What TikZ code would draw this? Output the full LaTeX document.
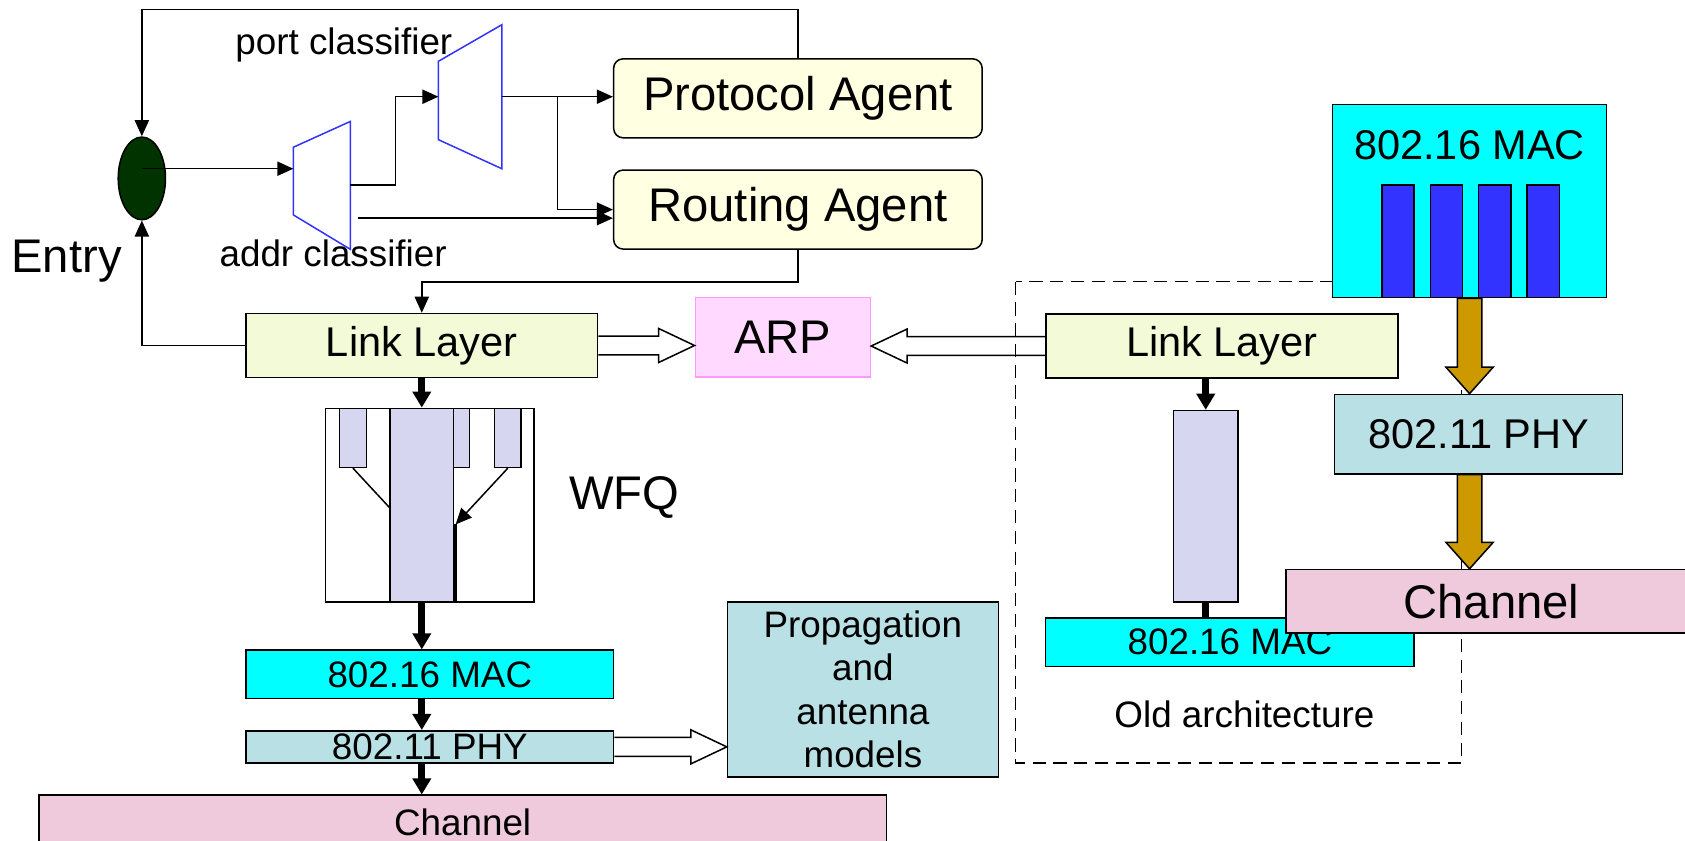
\documentclass[tikz,border=0pt]{standalone}
\usepackage{fontspec}
\setmainfont{Liberation Sans}
\usetikzlibrary{arrows.meta,calc,shapes.geometric}

\definecolor{agentfill}{RGB}{255,255,225}
\definecolor{linkfill}{RGB}{242,250,216}
\definecolor{arpfill}{RGB}{255,217,255}
\definecolor{arpline}{RGB}{255,153,255}
\definecolor{macfill}{RGB}{0,255,255}
\definecolor{barblue}{RGB}{51,51,255}
\definecolor{phyfill}{RGB}{185,224,228}
\definecolor{chanfill}{RGB}{239,202,220}
\definecolor{queuefill}{RGB}{214,214,240}
\definecolor{goldfill}{RGB}{204,153,0}
\definecolor{entryfill}{RGB}{0,51,0}

\begin{document}
\begin{tikzpicture}[x=0.02cm, y=-0.02cm, line width=0.8pt]
			\useasboundingbox (0,0) rectangle (1568,782);
			\begin{scope}
				[
					agent/.style={draw, rounded corners=5pt, fill=agentfill,
						minimum width=6.86cm, minimum height=1.47cm,
						font=\fontsize{25}{30}\selectfont},
					layer/.style={draw, fill=linkfill, minimum width=6.55cm,
						minimum height=1.19cm, font=\fontsize{22}{26}\selectfont},
					big/.style={font=\fontsize{25}{30}\selectfont},
					mid/.style={font=\fontsize{22}{26}\selectfont},
					small/.style={font=\fontsize{19.5}{23}\selectfont},
					queue/.style={draw, fill=queuefill, inner sep=0pt},
					classifier/.style={draw=barblue},
				]
				\draw[dashed, dash pattern=on 7pt off 4pt] (945,262) rectangle (1360,710);

				\node(entry)[draw, ellipse, fill=entryfill, minimum width=0.88cm,
					minimum height=1.54cm, inner sep=0pt] at (132,166) {};
				\node(entrytxt)[big, anchor=west, inner sep=0pt] at (10,243) {Entry};

				\draw[classifier] (273,137) -- (326,113) -- (326,232) -- (273,200) -- cycle;
				\draw[classifier] (408,57) -- (467,23) -- (467,157) -- (408,130) -- cycle;
				\coordinate (addrin) at (273,157);
				\coordinate (addrout) at (326,172);
				\coordinate (addrout2) at (333,203);
				\coordinate (portin) at (408,90);
				\coordinate (portout) at (467,90);
				\node(porttxt)[small] at (320,42) {port classifier};
				\node(addrtxt)[small] at (310,236) {addr classifier};

				\node(proto)[agent] at (742.5,91.5) {Protocol Agent};
				\node(routing)[agent] at (742.5,195) {Routing Agent};

				\node(linkL)[layer] at (392.5,321.5) {Link Layer};
				\node(arp)[draw=arpline, fill=arpfill, minimum width=3.26cm,
					minimum height=1.48cm, big] at (728.5,314) {ARP};
				\node(linkR)[layer] at (1137,322) {Link Layer};

				\node(wfq)[draw, fill=white, minimum width=3.88cm, minimum height=3.6cm] at (400,470) {};
				\node(q1)[queue, minimum width=0.5cm, minimum height=1.1cm] at (328.5,407.5) {};
				\node(q3)[queue, minimum width=0.5cm, minimum height=1.1cm] at (424.5,407.5) {};
				\node(q4)[queue, minimum width=0.5cm, minimum height=1.1cm] at (472.5,407.5) {};
				\coordinate (qin) at (364,474);
				\draw (q1.south) -- (qin);
				\node(qmid)[queue, minimum width=1.18cm, minimum height=3.6cm] at (392.5,470) {};
				\coordinate (qjoin) at (424,488);
				\node(wfqtxt)[big] at (581,463) {WFQ};

				\node(macL)[draw, fill=macfill, minimum width=6.84cm, minimum height=0.9cm,
					small] at (400,627.5) {802.16 MAC};
				\node(phyL)[draw, fill=phyfill, minimum width=6.84cm, minimum height=0.6cm,
					inner sep=0pt, small] at (400,695) {802.11 PHY};
				\node(chanL)[draw, fill=chanfill, minimum width=15.78cm, minimum height=1cm,
					small] at (430.5,765) {Channel};
				\node(prop)[draw, fill=phyfill, minimum width=5.04cm, minimum height=3.26cm,
					align=center, small] at (803,641.5) {Propagation\\and\\antenna\\models};

				\node(macbig)[draw, fill=macfill, minimum width=5.1cm, minimum height=3.6cm] at (1367.5,187) {};
				\node(mactxt)[mid] at (1367.5,135) {802.16 MAC};
				\foreach \i/\x in {1/1301,2/1346,3/1391,4/1436}
					\node(bar\i)[draw, fill=barblue, minimum width=0.6cm, minimum height=2.1cm,
						inner sep=0pt] at (\x,224.5) {};
				\node(phyR)[draw, fill=phyfill, minimum width=5.36cm, minimum height=1.48cm,
					mid] at (1376,404) {802.11 PHY};

				\node(barOld)[queue, minimum width=1.2cm, minimum height=3.56cm] at (1122,471) {};
				\node(macOld)[draw, fill=macfill, minimum width=6.86cm, minimum height=0.9cm,
					small] at (1144.5,597.5) {802.16 MAC};
				\node(chanR)[draw, fill=chanfill, minimum width=7.66cm, minimum height=1.18cm,
					big] at (1388,559.5) {Channel};
				\node(oldtxt)[small] at (1158,665) {Old architecture};
			\end{scope}

			\begin{scope}
				[ thin/.style={-{Triangle[length=8.5pt, width=7.5pt]}},
					thick/.style={line width=3.6pt, -{Triangle[length=8.5pt, width=9.5pt]}},
					hollowarrow/.style={to path={let \p1=(\tikztostart), \p2=(\tikztotarget),
						\p3=($(\p2)!19pt!(\p1)$) in
						($(\p1)!5pt!90:(\p2)$) -- ($(\p3)!5pt!90:(\p2)$) -- ($(\p3)!9pt!90:(\p2)$)
						-- (\p2) -- ($(\p3)!9pt!-90:(\p2)$) -- ($(\p3)!5pt!-90:(\p2)$)
						-- ($(\p1)!5pt!-90:(\p2)$)}},
					goldarrow/.style={to path={let \p1=(\tikztostart), \p2=(\tikztotarget),
						\p3=($(\p2)!14pt!(\p1)$) in
						($(\p1)!6.5pt!90:(\p2)$) -- ($(\p3)!6.5pt!90:(\p2)$) -- ($(\p3)!12.5pt!90:(\p2)$)
						-- (\p2) -- ($(\p3)!12.5pt!-90:(\p2)$) -- ($(\p3)!6.5pt!-90:(\p2)$)
						-- ($(\p1)!6.5pt!-90:(\p2)$) -- cycle}},
				]
				\draw[thin] (proto.north) -- ++(0,-45) -| (entry.north);
				\draw[thin] (linkL.west) -| (entry.south);
				\draw[thin] (entry.center |- addrin) -- (addrin);
				\draw[thin] (addrout) -- ++(42,0) |- (portin);
				\draw[thin] (addrout2) -- (addrout2 -| routing.west);
				\draw[thin] (portout) -- (portout -| proto.west);
				\draw[thin] (portout) -- ++(52,0) |- (routing.west);
				\draw[thin] (routing.south) -- ++(0,30) -| (linkL.north);

				\draw (linkL.east) to[hollowarrow] (arp.west |- linkL.east);
				\draw (linkR.west) to[hollowarrow] (arp.east |- linkR.west);
				\draw (phyL.east) to[hollowarrow] (prop.west |- phyL.east);

				\draw[thick] (linkL.south) -- (linkL.south |- wfq.north);
				\draw[thin] (q4.south) -- (qjoin);
				\draw[line width=1.8pt] (qjoin) -- (qjoin |- wfq.south);
				\draw[thick] (qmid.south) -- (qmid.south |- macL.north);
				\draw[thick] (qmid.south |- macL.south) -- (qmid.south |- phyL.north);
				\draw[thick] (qmid.south |- phyL.south) -- (qmid.south |- chanL.north);

				\draw[thick] (linkR.south -| barOld.north) -- (barOld.north);
				\draw[line width=3.6pt] (barOld.south) -- (barOld.south |- macOld.north);

				\draw[fill=goldfill] (macbig.south) to[goldarrow] (macbig.south |- phyR.north);
				\draw[fill=goldfill] (macbig.south |- phyR.south) to[goldarrow] (macbig.south |- chanR.north);
			\end{scope}
\end{tikzpicture}
\end{document}
